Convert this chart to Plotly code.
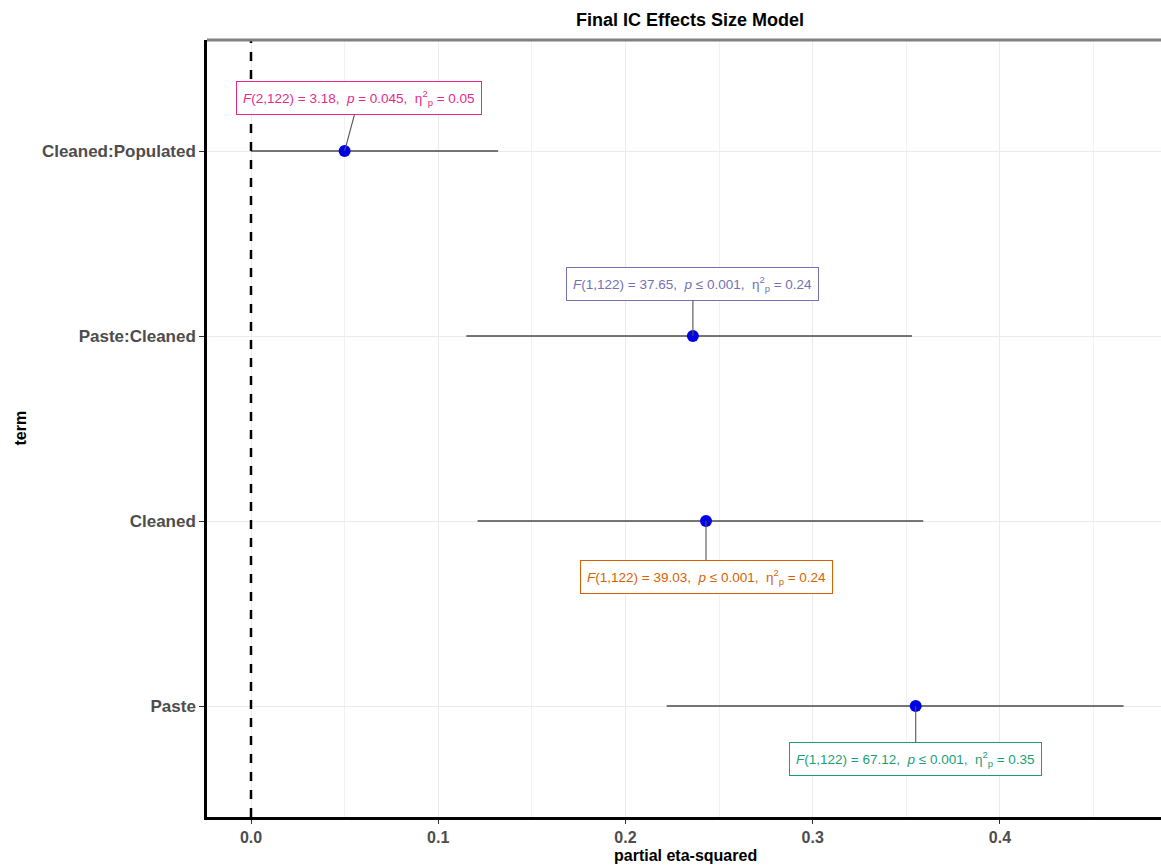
import plotly.graph_objects as go

terms = ["Cleaned:Populated", "Paste:Cleaned", "Cleaned", "Paste"]
ypos = [4, 3, 2, 1]
estimate = [0.050, 0.236, 0.243, 0.355]
ci_low = [0.0, 0.115, 0.121, 0.222]
ci_high = [0.132, 0.353, 0.359, 0.466]
labels = [
    "<i>F</i>(2,122) = 3.18,  <i>p</i> = 0.045,  η<sup>2</sup><sub>p</sub> = 0.05",
    "<i>F</i>(1,122) = 37.65,  <i>p</i> ≤ 0.001,  η<sup>2</sup><sub>p</sub> = 0.24",
    "<i>F</i>(1,122) = 39.03,  <i>p</i> ≤ 0.001,  η<sup>2</sup><sub>p</sub> = 0.24",
    "<i>F</i>(1,122) = 67.12,  <i>p</i> ≤ 0.001,  η<sup>2</sup><sub>p</sub> = 0.35",
]
label_colors = ["#E7298A", "#7570B3", "#D95F02", "#1B9E77"]
# label box centre offsets (x in data units, y in category units)
label_dx = [0.0076, 0.0, 0.0, 0.0]
label_dy = [0.285, 0.283, -0.30, -0.285]

FONT = "Liberation Sans, Arial, sans-serif"

fig = go.Figure()

# error bars
for t, y, lo, hi in zip(terms, ypos, ci_low, ci_high):
    fig.add_trace(go.Scatter(x=[lo, hi], y=[y, y], mode="lines",
                             line=dict(color="#4A4A4A", width=1.6),
                             showlegend=False, hoverinfo="skip"))

fig.add_trace(go.Scatter(x=estimate, y=ypos, mode="markers",
                         marker=dict(color="#0000E6", size=12),
                         showlegend=False))

# zero line
fig.add_shape(type="line", x0=0, x1=0, y0=0, y1=1, xref="x", yref="paper",
              line=dict(color="black", width=2.5, dash="dash"))

for i in range(len(terms)):
    fig.add_annotation(
        x=estimate[i], y=ypos[i], xref="x", yref="y",
        ax=estimate[i] + label_dx[i], ay=ypos[i] + label_dy[i],
        axref="x", ayref="y",
        text=labels[i], showarrow=True, arrowhead=0, arrowwidth=1.1,
        arrowcolor="#555555", standoff=0,
        font=dict(family=FONT, size=13.5, color=label_colors[i]),
        bgcolor="white", bordercolor=label_colors[i], borderwidth=1, borderpad=6,
    )

# top border
fig.add_shape(type="line", x0=0, x1=1, y0=1, y1=1, xref="paper", yref="paper",
              line=dict(color="#808080", width=3))

fig.add_annotation(text="<b>Final IC Effects Size Model</b>", x=0.506, y=1,
                   xref="paper", yref="paper", yanchor="bottom", yshift=8,
                   showarrow=False, font=dict(size=18, color="black", family=FONT))
fig.add_annotation(text="<b>partial eta-squared</b>", x=0.502, y=0,
                   xref="paper", yref="paper", yanchor="top", yshift=-28,
                   showarrow=False, font=dict(size=16, color="black", family=FONT))
fig.add_annotation(text="<b>term</b>", x=0, y=0.5, xref="paper", yref="paper",
                   xanchor="center", xshift=-187, textangle=-90,
                   showarrow=False, font=dict(size=16, color="black", family=FONT))

fig.update_layout(
    width=1161, height=867,
    margin=dict(l=207, r=0, t=40, b=50),
    paper_bgcolor="white", plot_bgcolor="white",
    font=dict(family=FONT, color="#4D4D4D"),
)

fig.update_xaxes(
    range=[-0.0235, 0.486], tickvals=[0, 0.1, 0.2, 0.3, 0.4],
    ticktext=["<b>0.0</b>", "<b>0.1</b>", "<b>0.2</b>", "<b>0.3</b>", "<b>0.4</b>"],
    showgrid=True, gridcolor="#EBEBEB", gridwidth=1.2,
    minor=dict(dtick=0.05, tick0=0, showgrid=True, gridcolor="#F2F2F2", gridwidth=0.8),
    zeroline=False, showline=True, linecolor="black", linewidth=2.5,
    ticks="outside", ticklen=4, tickcolor="#333333", automargin=False,
    tickfont=dict(size=16, color="#4D4D4D", family=FONT),
)
fig.update_yaxes(
    range=[0.4, 4.6], tickvals=ypos, ticktext=["<b>%s</b>" % t for t in terms],
    showgrid=True, gridcolor="#EBEBEB", gridwidth=1.2, zeroline=False,
    showline=True, linecolor="black", linewidth=2.5, automargin=False,
    ticks="outside", ticklen=5, tickcolor="#333333",
    tickfont=dict(size=17, color="#4D4D4D", family=FONT),
)

fig.write_html("out.html", config={"displayModeBar": False},
               post_script="document.body.style.margin='0';document.body.style.overflow='hidden';")
